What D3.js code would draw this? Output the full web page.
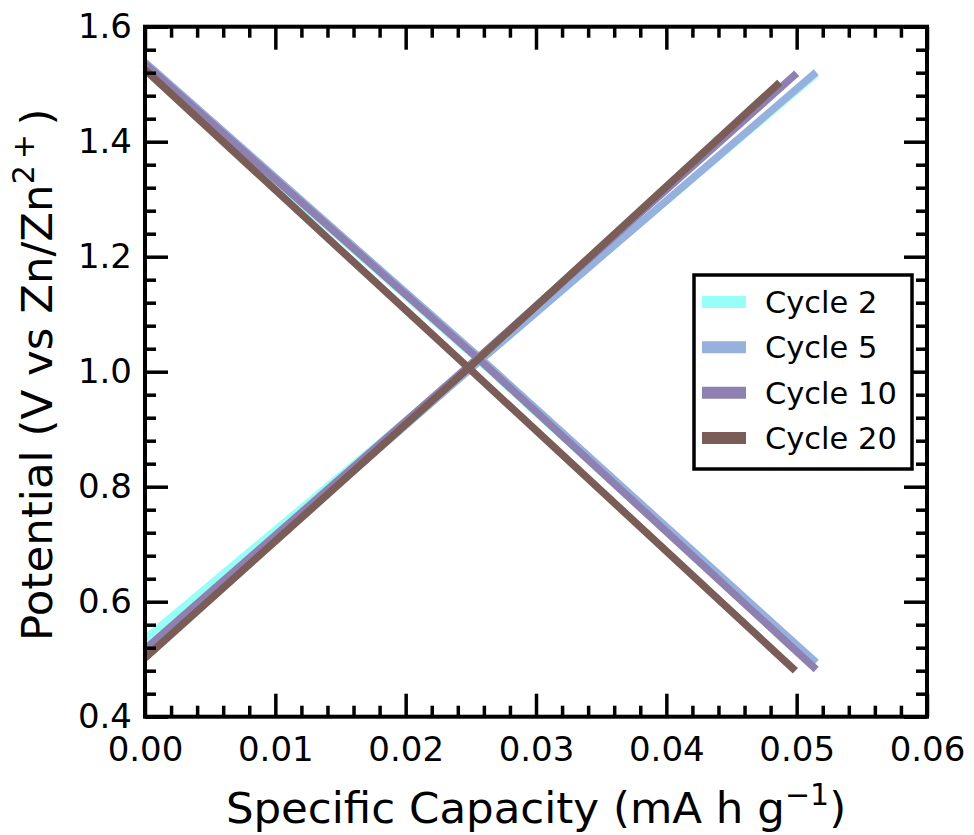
<!DOCTYPE html>
<html>
<head>
<meta charset="utf-8">
<script src="https://cdn.jsdelivr.net/npm/d3@7"></script>
<style>
  html, body { margin: 0; padding: 0; background: #fff; }
  svg { display: block; font-family: "DejaVu Sans", sans-serif; }
</style>
</head>
<body>
<svg id="chart" width="974" height="835"></svg>
<script>
// ---------- data ----------
const cycleNames = ["Cycle 2", "Cycle 5", "Cycle 10", "Cycle 20"];
const cycleColors = ["#98fff6", "#96b1de", "#8e80b0", "#7b5d58"];

// [capacity (mA h g-1), potential (V)]
const cycle2Charge    = [[0, 0.535], [0.0125, 0.772], [0.0257, 1.022], [0.0515, 1.518]];
const cycle2Discharge = [[0, 1.532], [0.0257, 1.018], [0.0512, 0.492]];
const cycle5Charge    = [[0, 0.512], [0.0257, 1.019], [0.0515, 1.521]];
const cycle5Discharge = [[0, 1.538], [0.0257, 1.024], [0.0515, 0.494]];
const cycle10Charge   = [[0, 0.517], [0.0257, 1.027], [0.0500, 1.519]];
const cycle10Discharge= [[0, 1.535], [0.0257, 1.020], [0.0515, 0.482]];
const cycle20Charge   = [[0, 0.502], [0.0250, 1.010], [0.0487, 1.503]];
const cycle20Discharge= [[0, 1.525], [0.0250, 1.003], [0.0499, 0.480]];

const chargeSeries = [cycle2Charge, cycle5Charge, cycle10Charge, cycle20Charge];
const dischargeSeries = [cycle2Discharge, cycle5Discharge, cycle10Discharge, cycle20Discharge];

const xMajorTicks = [0, 0.01, 0.02, 0.03, 0.04, 0.05, 0.06];
const xTickLabels = ["0.00", "0.01", "0.02", "0.03", "0.04", "0.05", "0.06"];
const yMajorTicks = [0.4, 0.6, 0.8, 1.0, 1.2, 1.4, 1.6];
const yTickLabels = ["0.4", "0.6", "0.8", "1.0", "1.2", "1.4", "1.6"];

// ---------- layout ----------
const pL = 145, pR = 927, pT = 26.7, pB = 716.7;
const svg = d3.select("#chart");

const x = d3.scaleLinear().domain([0, 0.06]).range([pL, pR]);
const y = d3.scaleLinear().domain([0.4, 1.6]).range([pB, pT]);

const xMinor = d3.range(0, 0.0601, 0.002).filter(v => Math.abs(v * 100 - Math.round(v * 100)) > 1e-6);
const yMinor = d3.range(0.4, 1.6001, 0.04).filter(v => Math.abs(v * 5 - Math.round(v * 5)) > 1e-6);

const tickFont = 34;
function styleAxis(g) {
  g.select(".domain").remove();
  g.selectAll(".tick line").attr("stroke", "#000").attr("stroke-width", 3.5);
  g.selectAll(".tick text").attr("font-size", tickFont).attr("fill", "#000")
    .attr("font-family", "DejaVu Sans, sans-serif");
}

// lines
const line = d3.line().x(d => x(d[0])).y(d => y(d[1]));
const linesG = svg.append("g");
for (let i = 0; i < cycleNames.length; i++) {
  linesG.append("path").datum(chargeSeries[i]).attr("d", line)
    .attr("fill", "none").attr("stroke", cycleColors[i]).attr("stroke-width", 7.5);
  linesG.append("path").datum(dischargeSeries[i]).attr("d", line)
    .attr("fill", "none").attr("stroke", cycleColors[i]).attr("stroke-width", 7.5);
}

// bottom
svg.append("g").attr("transform", `translate(0,${pB})`)
  .call(d3.axisBottom(x).tickValues(xMajorTicks).tickSize(-23).tickPadding(20)
    .tickFormat((d, i) => xTickLabels[i])).call(styleAxis);
svg.append("g").attr("transform", `translate(0,${pB})`)
  .call(d3.axisBottom(x).tickValues(xMinor).tickSize(-11).tickFormat("")).call(styleAxis);
// top
svg.append("g").attr("transform", `translate(0,${pT})`)
  .call(d3.axisTop(x).tickValues(xMajorTicks).tickSize(-23).tickFormat("")).call(styleAxis);
svg.append("g").attr("transform", `translate(0,${pT})`)
  .call(d3.axisTop(x).tickValues(xMinor).tickSize(-11).tickFormat("")).call(styleAxis);
// left
svg.append("g").attr("transform", `translate(${pL},0)`)
  .call(d3.axisLeft(y).tickValues(yMajorTicks).tickSize(-23).tickPadding(13)
    .tickFormat((d, i) => yTickLabels[i])).call(styleAxis);
svg.append("g").attr("transform", `translate(${pL},0)`)
  .call(d3.axisLeft(y).tickValues(yMinor).tickSize(-11).tickFormat("")).call(styleAxis);
// right
svg.append("g").attr("transform", `translate(${pR},0)`)
  .call(d3.axisRight(y).tickValues(yMajorTicks).tickSize(-23).tickFormat("")).call(styleAxis);
svg.append("g").attr("transform", `translate(${pR},0)`)
  .call(d3.axisRight(y).tickValues(yMinor).tickSize(-11).tickFormat("")).call(styleAxis);

// spines
svg.append("rect").attr("x", pL).attr("y", pT).attr("width", pR - pL).attr("height", pB - pT)
  .attr("fill", "none").attr("stroke", "#000").attr("stroke-width", 4);

// axis labels
const xl = svg.append("text").attr("x", (pL + pR) / 2).attr("y", 823)
  .attr("text-anchor", "middle").attr("font-size", 43.5).attr("fill", "#000");
xl.append("tspan").text("Specific Capacity (mA h g");
xl.append("tspan").attr("font-size", 30).attr("dy", -18).text("\u22121");
xl.append("tspan").attr("dy", 18).text(")");

const yl = svg.append("text")
  .attr("transform", `translate(52,${(pT + pB) / 2 + 3}) rotate(-90)`)
  .attr("text-anchor", "middle").attr("font-size", 43.5).attr("fill", "#000");
yl.append("tspan").text("Potential (V vs Zn/Zn");
yl.append("tspan").attr("font-size", 30).attr("dy", -18).text("2\u2009+");
yl.append("tspan").attr("dy", 18).text("\u2009)");

// legend
const lg = svg.append("g");
lg.append("rect").attr("x", 694).attr("y", 275).attr("width", 218).attr("height", 194)
  .attr("fill", "#fff").attr("stroke", "#000").attr("stroke-width", 3.5);
const legY = d3.scalePoint().domain(cycleNames).range([302, 438]);
cycleNames.forEach((name, i) => {
  lg.append("line").attr("x1", 702).attr("x2", 746).attr("y1", legY(name)).attr("y2", legY(name))
    .attr("stroke", cycleColors[i]).attr("stroke-width", 12);
  lg.append("text").attr("x", 765).attr("y", legY(name) + 11).attr("font-size", 30.5)
    .attr("fill", "#000").text(name);
});
</script>
</body>
</html>
